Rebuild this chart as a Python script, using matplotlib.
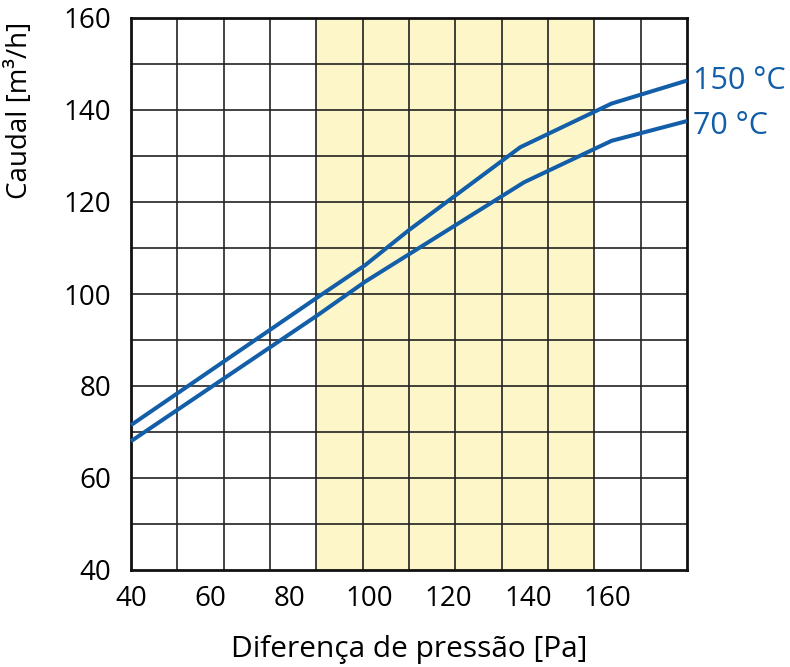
import numpy as np
import matplotlib
matplotlib.use("Agg")
from matplotlib import pyplot as plt

plt.rcParams['font.family'] = ['Open Sans', 'DejaVu Sans']

dp_150 = [40, 87, 99, 110, 138, 161, 180]
q_150 = [71.5, 99.3, 106.3, 113.9, 131.9, 141.4, 146.4]
dp_70 = [40, 87, 99, 139, 161, 180]
q_70 = [68.0, 95.4, 102.7, 124.3, 133.3, 137.6]
xticks = [40, 60, 80, 100, 120, 140, 160]
yticks = [40, 60, 80, 100, 120, 140, 160]
band = (86.67, 156.67)
blue = '#135ea8'

fig = plt.figure(figsize=(7.9, 6.67), dpi=100)
ax = fig.add_axes([131/790, 1-570/667, 556/790, 552/667])
ax.set_xlim(40, 180)
ax.set_ylim(40, 160)

ax.axvspan(band[0], band[1], color='#fdf6c8', zorder=0, lw=0)

for gx in np.linspace(40, 180, 13)[1:-1]:
    ax.axvline(gx, color='#222222', lw=1.2, zorder=1)
for gy in np.arange(50, 160, 10):
    ax.axhline(gy, color='#222222', lw=1.2, zorder=1)

ax.plot(dp_150, q_150, color=blue, lw=2.9, zorder=3, clip_on=False, solid_capstyle='butt')
ax.plot(dp_70, q_70, color=blue, lw=2.9, zorder=3, clip_on=False, solid_capstyle='butt')

ax.text(181.5, q_150[-1], '150 °C', color=blue, fontsize=22, va='center', ha='left')
ax.text(181.5, q_70[-1] - 1, '70 °C', color=blue, fontsize=22, va='center', ha='left')

ax.set_xticks(xticks)
ax.set_yticks(yticks)
ax.tick_params(length=0, labelsize=20)
ax.tick_params(axis='y', pad=14)
ax.tick_params(axis='x', pad=11)
for s in ax.spines.values():
    s.set_linewidth(2)
    s.set_color('#111111')

ax.set_xlabel('Diferença de pressão [Pa]', fontsize=21.5, labelpad=16)
fig.text(20/790, 1-110/667, 'Caudal [m³/h]', rotation=90, fontsize=20,
         ha='center', va='center')

fig.savefig('out.png', dpi=100)
